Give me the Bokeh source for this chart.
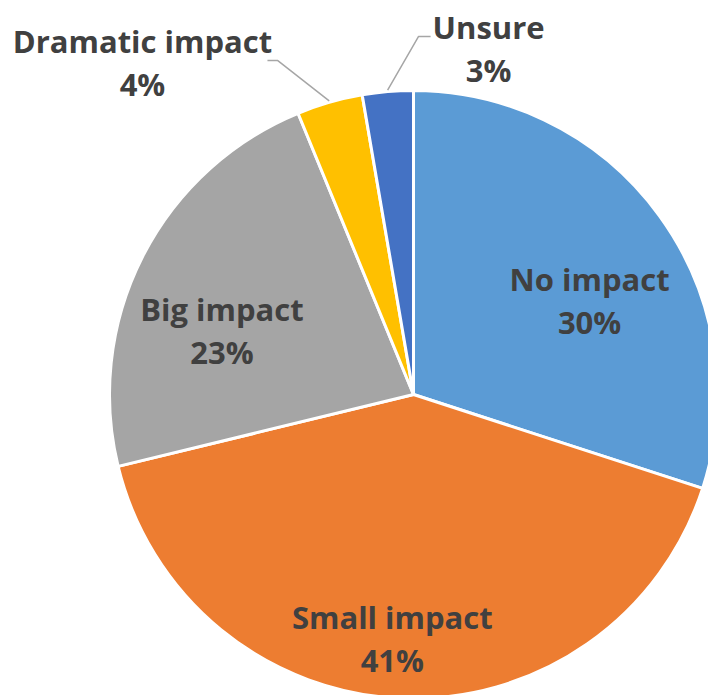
import numpy as np
from bokeh.plotting import figure
from bokeh.models import Range1d, ColumnDataSource
from bokeh.core.properties import value
from bokeh.embed import file_html
from bokeh.resources import INLINE

# ---- data ----
categories = ["No impact", "Small impact", "Big impact", "Dramatic impact", "Unsure"]
shares = [30.0, 41.2, 22.6, 3.5, 2.7]
colors = ["#5B9BD5", "#ED7D31", "#A5A5A5", "#FFC000", "#4472C4"]

# ---- layout ----
W, H = 708, 695
PAGE_H = 695
CX, CY = 413, PAGE_H - 394
R = 304
label_angle_shift = [-8.0, -2.8, 8.6, 23.2, -17.1]   # degrees
label_radius = [0.656, 0.806, 0.664, 1.41, 1.165]     # fraction of R
outside = [False, False, False, True, True]
leader_elbow = {3: (135, 2, 125, 2), 4: (-70, 12, -58, 12)}  # (elbow dx, dy, end dx, dy) from label centre
LINE_GAP = 21.5
FONT = "Open Sans"
TXT = "#404040"

vals = np.array(shares, dtype=float)
frac = vals / vals.sum()
cum = np.concatenate([[0.0], np.cumsum(frac)]) * 360.0
start_deg = 90.0 - cum[:-1]
end_deg = 90.0 - cum[1:]
mid_deg = (start_deg + end_deg) / 2.0

src = ColumnDataSource(dict(
    cat=categories, color=colors,
    start=np.radians(start_deg), end=np.radians(end_deg),
))

p = figure(width=W, height=H, output_backend="svg", toolbar_location=None,
           x_range=Range1d(0, W), y_range=Range1d(PAGE_H - H, PAGE_H),
           min_border=0, tools="")
p.axis.visible = False
p.grid.visible = False
p.outline_line_color = None
p.background_fill_color = "white"
p.border_fill_color = "white"

p.wedge(x=CX, y=CY, radius=R, start_angle="start", end_angle="end",
        direction="clock", fill_color="color", line_color="white", line_width=3,
        source=src)

lx, ly, names, pcts = [], [], [], []
for i, cat in enumerate(categories):
    a = np.radians(mid_deg[i] + label_angle_shift[i])
    x = CX + label_radius[i] * R * np.cos(a)
    y = CY + label_radius[i] * R * np.sin(a)
    lx.append(x); ly.append(y)
    names.append(cat)
    pcts.append(f"{round(shares[i])}%")
    if outside[i]:
        am = np.radians(mid_deg[i])
        ex, ey = CX + 1.005 * R * np.cos(am), CY + 1.005 * R * np.sin(am)
        edx, edy, fdx, fdy = leader_elbow[i]
        p.line([ex, x + edx, x + fdx], [ey, y + edy, y + fdy],
               line_color="#A6A6A6", line_width=1.5)

lsrc = ColumnDataSource(dict(x=lx, y1=[v + LINE_GAP for v in ly], y2=[v - LINE_GAP for v in ly],
                             name=names, pct=pcts))
for col in ("name", "pct"):
    p.text(x="x", y="y1" if col == "name" else "y2", text=col, source=lsrc,
           text_font=value(FONT), text_font_style="bold", text_font_size="31px",
           text_color=TXT, text_align="center", text_baseline="middle")

open("out.html", "w").write(file_html(p, INLINE))
